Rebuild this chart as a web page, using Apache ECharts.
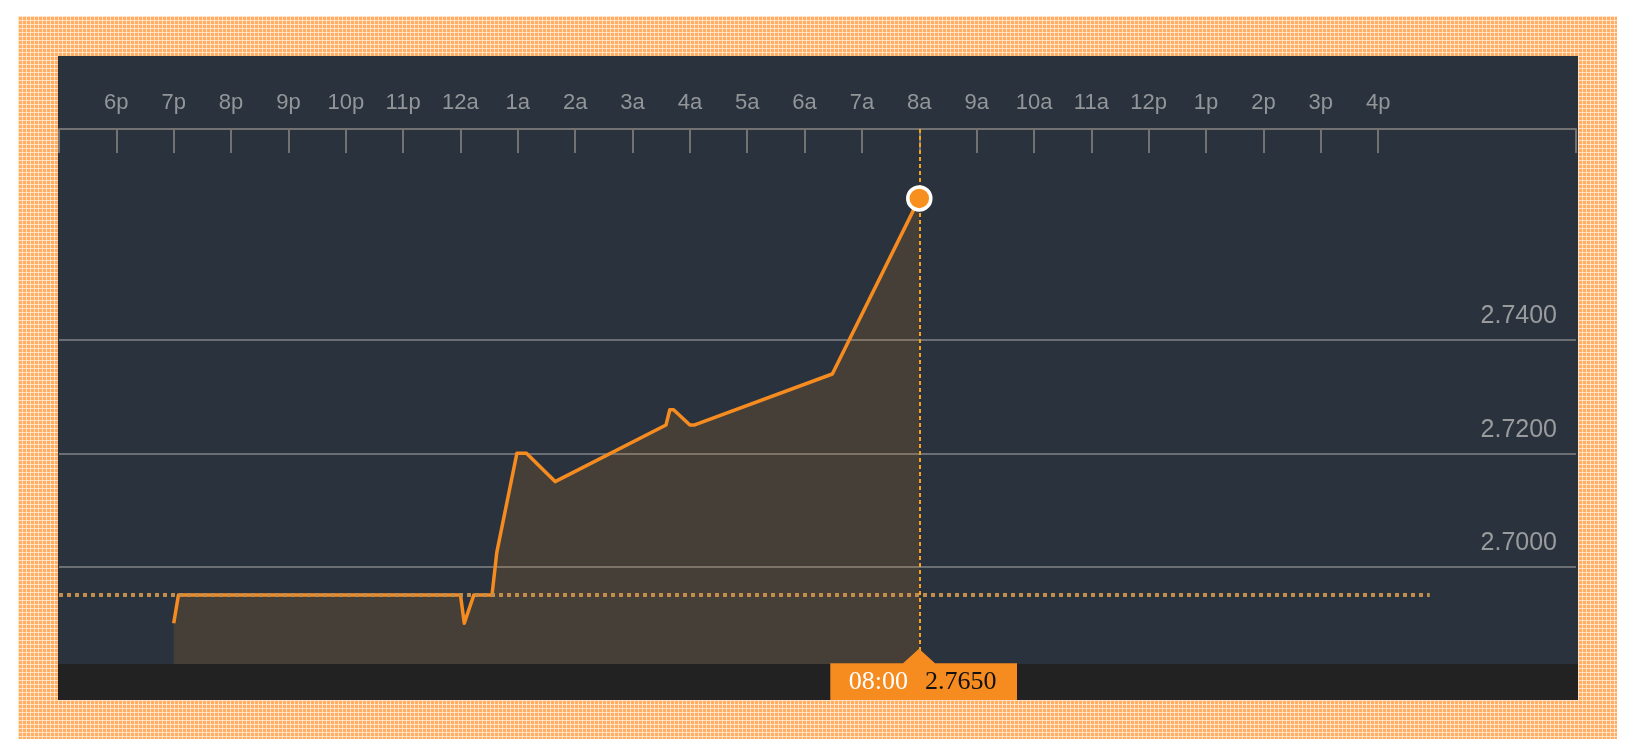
<!DOCTYPE html>
<html>
<head>
<meta charset="utf-8">
<script src="https://cdn.jsdelivr.net/npm/echarts@6/dist/echarts.min.js"></script>
<style>
  html, body { margin: 0; padding: 0; background: #ffffff; width: 1640px; height: 752px; overflow: hidden; }
  #frame {
    position: absolute; left: 18px; top: 16px; width: 1599px; height: 723px;
    background-color: #ffae62;
    background-image:
      linear-gradient(90deg, rgba(255,240,225,0.75) 1px, transparent 1px),
      linear-gradient(rgba(255,240,225,0.75) 1px, transparent 1px);
    background-size: 4px 4px;
  }
  #chart { position: absolute; left: 58px; top: 56px; width: 1520px; height: 644px; }
</style>
</head>
<body>
<div id="frame"></div>
<div id="chart"></div>
<script>
// ---- data ----
const axisStart = '17:00';
const hourLabels = ['6p','7p','8p','9p','10p','11p','12a','1a','2a','3a','4a','5a','6a','7a','8a','9a','10a','11a','12p','1p','2p','3p','4p'];
const times  = ['19:00','19:05','00:00','00:04','00:14','00:33','00:38','00:59','01:09','01:39','03:35','03:39','03:43','04:00','04:05','06:29','08:00'];
const prices = [2.6900, 2.6950, 2.6950, 2.6900, 2.6950, 2.6950, 2.7025, 2.7200, 2.7200, 2.7150, 2.7250, 2.7277, 2.7277, 2.7250, 2.7250, 2.7340, 2.7650];
const priceTicks = [2.70, 2.72, 2.74];
const prevClose = 2.6950;
const prevCloseSpan = ['17:00', '16:54'];

// ---- helpers ----
function toHours(t) {
  const [h, m] = t.split(':').map(Number);
  const [h0, m0] = axisStart.split(':').map(Number);
  return (((h * 60 + m) - (h0 * 60 + m0)) + 1440) % 1440 / 60;
}
const X_MAX = 26.45;
const Y_MIN = 2.6828, Y_MAX = 2.77725;

const lineData = times.map((t, i) => [toHours(t), prices[i]]);
const last = lineData[lineData.length - 1];
const lastTime = times[times.length - 1];
const lastPrice = prices[prices.length - 1].toFixed(4);

const labelValues = hourLabels.map((_, i) => i + 1);
const tickValues = [0].concat(labelValues, [X_MAX]);

const ORANGE = '#f68b1f';

const chart = echarts.init(document.getElementById('chart'), null, { renderer: 'canvas' });
chart.setOption({
  animation: false,
  backgroundColor: '#2a333d',
  grid: { left: 1, right: 2, top: 73, bottom: 36, outerBoundsMode: 'none', containLabel: false },
  graphic: [{
    type: 'rect', left: 0, bottom: 0, z: 0,
    shape: { width: 1520, height: 36 },
    style: { fill: '#222222' }
  }],
  xAxis: {
    type: 'value', position: 'top', min: 0, max: X_MAX,
    axisLine: { show: true, lineStyle: { color: '#727272', width: 2 } },
    axisTick: { show: true, inside: true, length: 24, customValues: tickValues,
                lineStyle: { color: '#727272', width: 2 } },
    axisLabel: {
      customValues: labelValues,
      formatter: v => hourLabels[Math.round(v) - 1] || '',
      color: '#939699', fontSize: 22, lineHeight: 22,
      fontFamily: 'Liberation Sans, Arial, sans-serif', margin: 15
    },
    splitLine: { show: false }
  },
  yAxis: {
    type: 'value', position: 'right', min: Y_MIN, max: Y_MAX, scale: true,
    axisLine: { show: false },
    axisTick: { show: false, customValues: priceTicks },
    axisLabel: {
      inside: true, customValues: priceTicks,
      formatter: v => v.toFixed(4),
      color: '#9a9b9d', fontSize: 25, lineHeight: 25,
      fontFamily: 'Liberation Sans, Arial, sans-serif',
      margin: 19, verticalAlign: 'bottom', padding: [0, 0, 11, 0]
    },
    splitLine: { show: true, lineStyle: { color: '#6b6f73', width: 2 } }
  },
  series: [{
    type: 'line',
    data: lineData,
    symbol: 'none',
    z: 2,
    lineStyle: { color: ORANGE, width: 3.5, join: 'round' },
    areaStyle: { color: 'rgba(247,144,30,0.19)' },
    markLine: {
      silent: true, z: 4, symbol: ['none', 'none'],
      label: { show: false },
      data: [
        [{ coord: [toHours(prevCloseSpan[0]), prevClose], lineStyle: { color: '#c08d4c', width: 4, type: [4, 4] } },
         { coord: [toHours(prevCloseSpan[1]), prevClose] }],
        [{ coord: [last[0], Y_MAX], lineStyle: { color: '#f5a31a', width: 2, type: [4, 3] } },
         { coord: [last[0], Y_MIN] }]
      ]
    },
    markPoint: {
      silent: true, z: 6,
      data: [
        { coord: last, symbol: 'circle', symbolSize: 23,
          itemStyle: { color: '#f7901e', borderColor: '#ffffff', borderWidth: 3.5 },
          label: { show: false } },
        { coord: [last[0], Y_MIN],
          symbol: 'path://M88.7 0 L104.7 14.6 L186.7 14.6 L186.7 51.3 L0 51.3 L0 14.6 L72.7 14.6 Z',
          symbolSize: [186.7, 51.3], symbolOffset: [4.35, 10.35],
          itemStyle: { color: ORANGE },
          label: {
            show: true, position: 'inside', offset: [-1, 8],
            formatter: '{t|' + lastTime + '}{v|' + lastPrice + '}',
            rich: {
              t: { color: '#ffffff', fontFamily: 'Liberation Serif, serif', fontSize: 26, padding: [0, 17, 0, 0] },
              v: { color: '#111111', fontFamily: 'Liberation Serif, serif', fontSize: 26 }
            }
          } }
      ]
    }
  }]
});
</script>
</body>
</html>
